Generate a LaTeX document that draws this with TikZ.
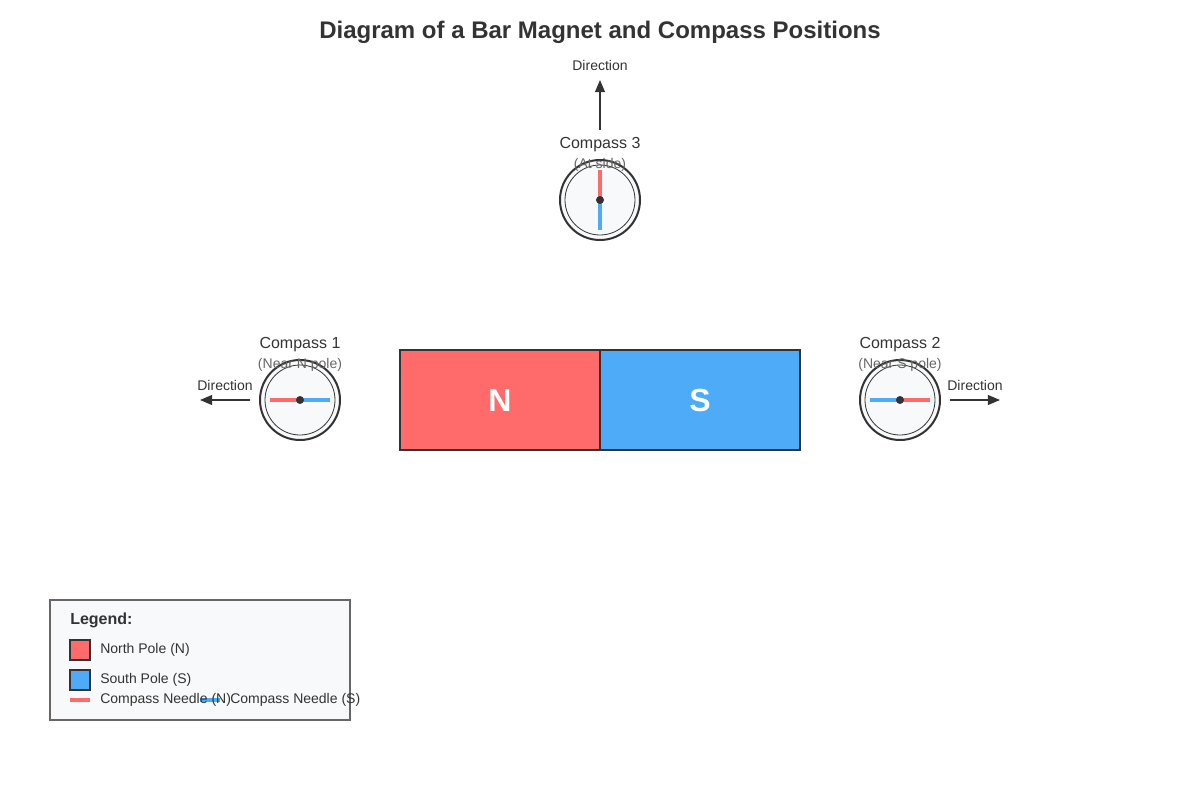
\documentclass[tikz,border=0pt]{standalone}
\usepackage{fontspec}
\setmainfont{Liberation Sans}
\usetikzlibrary{arrows,positioning}
\definecolor{npole}{HTML}{FF6B6B}
\definecolor{spole}{HTML}{4DABF7}
\definecolor{ink}{HTML}{333333}
\definecolor{dial}{HTML}{F8F9FA}
\definecolor{sub}{HTML}{666666}
\tikzset{pole/.style={rectangle,draw=ink,line width=1.5pt,minimum width=150pt,minimum height=75pt,inner sep=0pt,text=white,font=\fontsize{24}{28}\selectfont\bfseries},
         dial/.style={circle,draw=ink,fill=dial,line width=1.5pt,minimum size=60pt,inner sep=0pt},
         rim/.style={circle,draw=ink,line width=0.6pt,minimum size=52.5pt,inner sep=0pt},
         needle/.style={line width=2.3pt},
         pivot/.style={circle,fill=ink,minimum size=6pt,inner sep=0pt},
         title label/.style={text=ink,font=\fontsize{12}{14}\selectfont},
         sub label/.style={text=sub,font=\fontsize{10.5}{12}\selectfont},
         dir label/.style={text=ink,font=\fontsize{10.5}{12}\selectfont},
         dir arrow/.style={-triangle 45,draw=ink,line width=1.1pt},
         key box/.style={rectangle,draw=ink,line width=0.8pt,minimum size=15pt,inner sep=0pt},
         key text/.style={anchor=west,text=ink,font=\fontsize{10.5}{12}\selectfont,inner sep=0pt}
}
\begin{document}
\begin{tikzpicture}[x=0.75pt,y=-0.75pt]
\useasboundingbox (0,0) rectangle (1200,800);
\node [text=ink,font=\fontsize{18}{22}\selectfont\bfseries] (title) at (600,32) {Diagram of a Bar Magnet and Compass Positions};

% magnet
\node [pole,fill=npole] (N) at (500,400) {N};
\node [pole,fill=spole] (S) at (700,400) {S};

% compasses
\foreach \name/\x/\y/\num/\note in {c1/300/400/1/Near N pole, c2/900/400/2/Near S pole, c3/600/200/3/At side}{
    \node [dial] (\name) at (\x,\y) {};
    \node [rim] at (\name) {};
    \node [title label] (\name t) at (\x,\y-55) {Compass \num};
    \node [sub label] (\name s) at (\x,\y-35) {(\note)};
}
\draw [needle,npole] (c1.center) -- ++(-30,0);
\draw [needle,spole] (c1.center) -- ++(30,0);
\draw [needle,spole] (c2.center) -- ++(-30,0);
\draw [needle,npole] (c2.center) -- ++(30,0);
\draw [needle,npole] (c3.center) -- ++(0,-30);
\draw [needle,spole] (c3.center) -- ++(0,30);
\foreach \name in {c1,c2,c3}
    \node [pivot] at (\name) {};

% directions
\coordinate (a1) at (250,400); \coordinate (b1) at (200,400);
\coordinate (a2) at (950,400); \coordinate (b2) at (1000,400);
\coordinate (a3) at (600,130); \coordinate (b3) at (600,80);
\draw [dir arrow] (a1) -- (b1);
\draw [dir arrow] (a2) -- (b2);
\draw [dir arrow] (a3) -- (b3);
\node [dir label] (d1) at (225,385) {Direction};
\node [dir label] (d2) at (975,385) {Direction};
\node [dir label] (d3) at (600,65) {Direction};

% legend
\draw [fill=dial,draw=sub,line width=0.9pt] (50,600) rectangle (350,720);
\node [key text,font=\fontsize{12}{14}\selectfont\bfseries] (lg) at (70,620) {Legend:};
\node [key box,fill=npole] (kN) at (80,650) {};
\node [key text] at (100,650) {North Pole (N)};
\node [key box,fill=spole] (kS) at (80,680) {};
\node [key text] at (100,680) {South Pole (S)};
\coordinate (r1) at (70,700); \coordinate (r2) at (90,700);
\coordinate (s1) at (200,700); \coordinate (s2) at (220,700);
\draw [npole,line width=2.3pt] (r1) -- (r2);
\draw [spole,line width=2.3pt] (s1) -- (s2);
\node [key text] at (100,700) {Compass Needle (N)};
\node [key text] at (230,700) {Compass Needle (S)};
\end{tikzpicture}
\end{document}
